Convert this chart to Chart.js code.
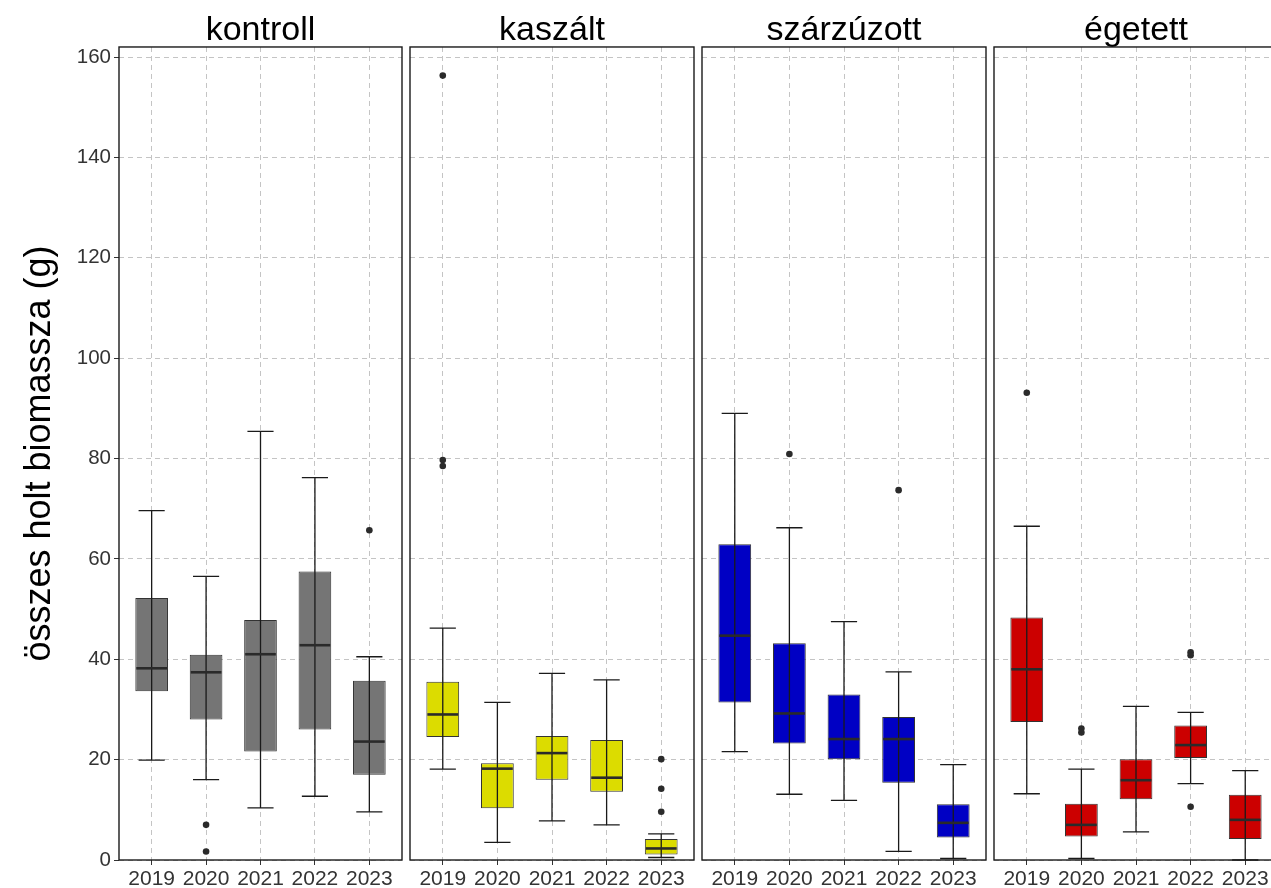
<!DOCTYPE html>
<html>
<head>
<meta charset="utf-8">
<title>összes holt biomassza</title>
<script src="https://cdn.jsdelivr.net/npm/chart.js@4.4.0/dist/chart.umd.min.js"></script>
<style>
  html, body { margin: 0; padding: 0; background: #fff; overflow: hidden; }
  #wrap { position: relative; width: 1271px; height: 888px; overflow: hidden; background: #fff; }
  #wrap canvas { position: absolute; top: 0; }
</style>
</head>
<body>
<div id="wrap"></div>
<script>
const years = ['2019', '2020', '2021', '2022', '2023'];
const treatments = ['kontroll', 'kaszált', 'szárzúzott', 'égetett'];
const fills = ['#757575', '#dcdc00', '#0000c4', '#cc0000'];
const yTicks = [0, 20, 40, 60, 80, 100, 120, 140, 160];

// box statistics, one row per treatment, one column per year
const whiskerLow = [
    [19.9, 16.0, 10.4, 12.7, 9.6],
    [18.1, 3.5, 7.8, 7.0, 0.5],
    [21.6, 13.1, 11.9, 1.7, 0.3],
    [13.2, 0.3, 5.6, 15.2, 0.0]
];
const quart1 = [
    [33.6, 28.0, 21.6, 26.0, 17.0],
    [24.5, 10.3, 16.0, 13.6, 1.1],
    [31.4, 23.2, 20.1, 15.4, 4.5],
    [27.5, 4.7, 12.1, 20.3, 4.2]
];
const medians = [
    [38.2, 37.4, 41.0, 42.8, 23.6],
    [29.0, 18.2, 21.3, 16.4, 2.3],
    [44.7, 29.2, 24.1, 24.1, 7.4],
    [38.0, 7.0, 15.9, 22.9, 8.0]
];
const quart3 = [
    [52.2, 40.9, 47.8, 57.5, 35.7],
    [35.5, 19.3, 24.7, 23.9, 4.2],
    [62.9, 43.2, 33.0, 28.5, 11.1],
    [48.3, 11.2, 20.1, 26.8, 13.0]
];
const whiskerHigh = [
    [69.6, 56.5, 85.4, 76.2, 40.5],
    [46.2, 31.4, 37.2, 35.9, 5.2],
    [89.0, 66.2, 47.5, 37.5, 19.0],
    [66.5, 18.1, 30.6, 29.4, 17.8]
];
// outliers as [year index, value]
const outliers = [
    [[1, 7.0], [1, 1.7], [4, 65.7]],
    [[0, 156.3], [0, 79.7], [0, 78.5], [4, 20.1], [4, 14.2], [4, 9.6]],
    [[1, 80.9], [3, 73.7]],
    [[0, 93.1], [1, 26.2], [1, 25.4], [3, 41.4], [3, 40.8], [3, 10.6]]
];

Chart.defaults.font.family = "'Liberation Sans', Arial, sans-serif";
Chart.defaults.animation = false;

// panel placement on the page
const panelLeft = [119, 410, 702, 994];
const panelWidth = [283, 284, 284, 284];
const yAxisWidth = 119;
const pageHeight = 888;

// whiskers, caps, medians and the panel frame
const boxPlugin = {
    id: 'boxes',
    afterDatasetsDraw(chart, args, opts) {
        const g = opts.group;
        const xs = chart.scales.x, ys = chart.scales.y;
        const ctx = chart.ctx;
        const halfCap = xs.getPixelForValue(1.24) - xs.getPixelForValue(1);
        const halfBox = xs.getPixelForValue(1.3) - xs.getPixelForValue(1);
        ctx.save();
        years.forEach((yr, i) => {
            const cx = xs.getPixelForValue(i + 1);
            const lo = ys.getPixelForValue(whiskerLow[g][i]);
            const hi = ys.getPixelForValue(whiskerHigh[g][i]);
            ctx.strokeStyle = '#1a1a1a';
            ctx.lineWidth = 1.3;
            ctx.beginPath();
            ctx.moveTo(cx, lo); ctx.lineTo(cx, hi);
            ctx.moveTo(cx - halfCap, lo); ctx.lineTo(cx + halfCap, lo);
            ctx.moveTo(cx - halfCap, hi); ctx.lineTo(cx + halfCap, hi);
            ctx.stroke();
            const my = ys.getPixelForValue(medians[g][i]);
            ctx.strokeStyle = '#2a2a2a';
            ctx.lineWidth = 2.6;
            ctx.beginPath();
            ctx.moveTo(cx - halfBox + 1, my); ctx.lineTo(cx + halfBox - 1, my);
            ctx.stroke();
        });
        const a = chart.chartArea;
        ctx.strokeStyle = '#1a1a1a';
        ctx.lineWidth = 1.4;
        ctx.strokeRect(a.left, a.top, a.right - a.left, a.bottom - a.top);
        ctx.restore();
    }
};

const wrap = document.getElementById('wrap');

treatments.forEach((name, g) => {
    const first = g === 0;
    const leftSpace = first ? yAxisWidth : 1;
    const canvas = document.createElement('canvas');
    canvas.width = leftSpace + panelWidth[g] + 1;
    canvas.height = pageHeight;
    canvas.style.left = (panelLeft[g] - leftSpace) + 'px';
    wrap.appendChild(canvas);

    const boxData = years.map((yr, i) => ({ x: i + 1, y: [quart1[g][i], quart3[g][i]] }));
    const pointData = outliers[g].map(o => ({ x: o[0] + 1, y: o[1] }));

    new Chart(canvas, {
        type: 'bar',
        data: {
            datasets: [
                {
                    type: 'bar',
                    data: boxData,
                    backgroundColor: fills[g],
                    borderColor: '#333333',
                    borderWidth: 1,
                    borderSkipped: false,
                    barPercentage: 0.6,
                    categoryPercentage: 1
                },
                {
                    type: 'scatter',
                    data: pointData,
                    backgroundColor: '#2b2b2b',
                    borderWidth: 0,
                    pointRadius: 3.3
                }
            ]
        },
        options: {
            responsive: false,
            layout: {
                autoPadding: false,
                padding: { left: first ? 0 : 1, right: 1, top: 0, bottom: 0 }
            },
            plugins: {
                legend: { display: false },
                tooltip: { enabled: false },
                title: {
                    display: true,
                    text: name,
                    fullSize: false,
                    color: '#000',
                    font: { size: 34, weight: 'normal', lineHeight: 0.97 },
                    padding: { top: 14, bottom: 0 }
                },
                boxes: { group: g }
            },
            scales: {
                x: {
                    type: 'linear',
                    min: 0.4,
                    max: 5.6,
                    offset: false,
                    afterBuildTicks: s => { s.ticks = years.map((yr, i) => ({ value: i + 1 })); },
                    afterFit: s => { s.height = 28; s.paddingLeft = 0; s.paddingRight = 0; },
                    ticks: {
                        callback: v => years[v - 1],
                        autoSkip: false,
                        maxRotation: 0,
                        color: '#333',
                        padding: 2,
                        font: { size: 21 }
                    },
                    grid: {
                        offset: false,
                        color: '#c4c4c4',
                        lineWidth: 1,
                        tickLength: 5,
                        tickColor: '#333',
                        tickWidth: 1
                    },
                    border: { display: false, dash: [5, 4] }
                },
                y: {
                    type: 'linear',
                    min: 0,
                    max: 162,
                    afterBuildTicks: s => { s.ticks = yTicks.map(v => ({ value: v })); },
                    afterFit: s => { s.width = first ? yAxisWidth : 0; s.paddingTop = 0; s.paddingBottom = 0; },
                    title: {
                        display: first,
                        text: 'összes holt biomassza (g)',
                        color: '#000',
                        font: { size: 36, weight: 'normal' },
                        padding: { top: 18, bottom: 0 }
                    },
                    ticks: {
                        display: first,
                        color: '#333',
                        padding: 3,
                        font: { size: 20.5 }
                    },
                    grid: {
                        color: '#c4c4c4',
                        lineWidth: 1,
                        drawTicks: first,
                        tickLength: 5,
                        tickColor: '#333',
                        tickWidth: 1
                    },
                    border: { display: false, dash: [5, 4] }
                }
            }
        },
        plugins: [boxPlugin]
    });
});
</script>
</body>
</html>
